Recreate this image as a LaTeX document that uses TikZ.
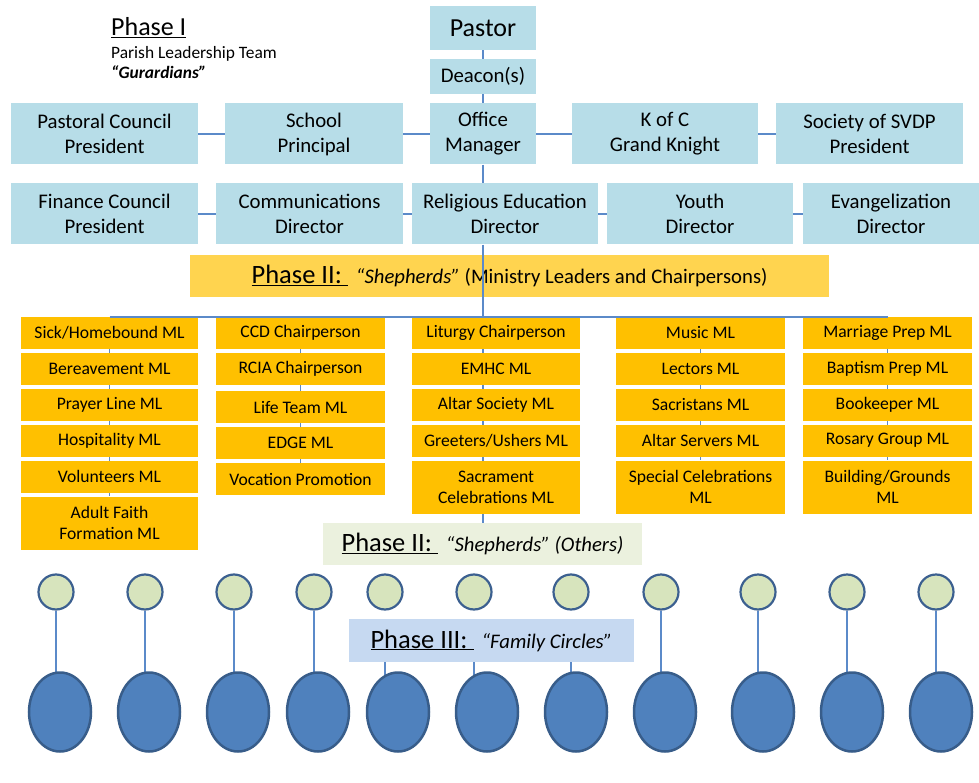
\documentclass[tikz,border=0pt]{standalone}
\usepackage{fontspec}
\setmainfont{Carlito}
\usepackage{tikz}
\usetikzlibrary{positioning, shapes.geometric, backgrounds}
\definecolor{leadblue}{HTML}{B7DDE8}
\definecolor{bannergold}{HTML}{FFD44F}
\definecolor{minorange}{HTML}{FFC000}
\definecolor{othersgreen}{HTML}{EBF1DE}
\definecolor{familyblue}{HTML}{C6D9F1}
\definecolor{circlegreen}{HTML}{D7E4BD}
\definecolor{circleline}{HTML}{3C6090}
\definecolor{ovalblue}{HTML}{4F81BD}
\definecolor{ovalline}{HTML}{385D8A}
\definecolor{linkblue}{HTML}{5B8AC9}
\tikzset{
  lead/.style={fill=leadblue, align=center, inner sep=0pt, font=\fontsize{20.8}{25}\selectfont},
  ministry/.style={fill=minorange, align=center, inner sep=0pt, minimum height=32, font=\fontsize{17.6}{21}\selectfont},
  phasebox/.style={inner sep=0pt, font=\fontsize{26.5}{30}\selectfont},
  famcircle/.style={circle, fill=circlegreen, draw=circleline, line width=2.2pt, minimum size=35, inner sep=0pt},
  famoval/.style={ellipse, fill=ovalblue, draw=ovalline, line width=2.5pt, minimum width=62, minimum height=79, inner sep=0pt},
  link/.style={draw=linkblue, line width=1.5pt}
}

\begin{document}
\begin{tikzpicture}[x=1pt, y=-1pt, node distance=3.5pt]
\useasboundingbox (0,0) rectangle (979,783);

\node (phaseOne) [anchor=base west, inner sep=0pt, font=\fontsize{26}{30}\selectfont] at (111,36) {\underline{Phase I}};
\node (parish) [anchor=base west, inner sep=0pt, font=\fontsize{17.4}{20}\selectfont] at (111,59) {Parish Leadership Team};
\node (guardians) [anchor=base west, inner sep=0pt, font=\fontsize{17.4}{20}\selectfont\bfseries\itshape] at (111,79) {“Gurardians”};

\node (pastor) [lead, minimum width=106, minimum height=44, font=\fontsize{26}{30}\selectfont] at (483,28) {Pastor};
\node (deacon) [lead, minimum width=106, minimum height=35] at (483,76.5) {Deacon(s)};

\node (pcouncil) [lead, minimum width=187, minimum height=61] at (104.5,134) {Pastoral Council\\President};
\node (principal) [lead, minimum width=178, minimum height=61] at (314,134) {School\\Principal};
\node (office) [lead, minimum width=106, minimum height=61] at (483,134) {Office\\Manager};
\node (kofc) [lead, minimum width=186, minimum height=61] at (665,134) {K of C\\Grand Knight};
\node (svdp) [lead, minimum width=187, minimum height=61] at (869.5,134) {Society of SVDP\\President};

\node (fcouncil) [lead, minimum width=187, minimum height=61] at (104.5,214) {Finance Council\\President};
\node (comms) [lead, minimum width=187, minimum height=61] at (309.5,214) {Communications\\Director};
\node (reled) [lead, minimum width=186, minimum height=61] at (505,214) {Religious Education\\Director};
\node (youth) [lead, minimum width=186, minimum height=61] at (700,214) {Youth\\Director};
\node (evang) [lead, minimum width=176, minimum height=61] at (891,214) {Evangelization\\Director};

\node (banner) [phasebox, fill=bannergold, minimum width=639, minimum height=42] at (509.5,276)
  {\underline{Phase II:\hspace{6pt}}\hspace{8pt}{\fontsize{20.7}{24}\selectfont{\itshape “Shepherds”} (Ministry Leaders and Chairpersons)}};

\node (sick) [ministry, minimum width=177] at (109.5,333) {Sick/Homebound ML};
\node (bereave) [ministry, minimum width=177, below=of sick] {Bereavement ML};
\node (prayer) [ministry, minimum width=177, below=of bereave] {Prayer Line ML};
\node (hospit) [ministry, minimum width=177, below=of prayer] {Hospitality ML};
\node (volunt) [ministry, minimum width=177, below=of hospit] {Volunteers ML};
\node (adult) [ministry, minimum width=177, minimum height=53, below=of volunt] {Adult Faith\\Formation ML};

\node (ccd) [ministry, minimum width=169] at (300.5,333) {CCD Chairperson};
\node (rcia) [ministry, minimum width=169, below=of ccd] {RCIA Chairperson};
\node (lifeteam) [ministry, minimum width=169, below=6pt of rcia] {Life Team ML};
\node (edge) [ministry, minimum width=169, below=of lifeteam] {EDGE ML};
\node (vocation) [ministry, minimum width=169, below=of edge] {Vocation Promotion};

\node (liturgy) [ministry, minimum width=168] at (496,333) {Liturgy Chairperson};
\node (emhc) [ministry, minimum width=168, below=of liturgy] {EMHC ML};
\node (altarsoc) [ministry, minimum width=168, below=of emhc] {Altar Society ML};
\node (greeters) [ministry, minimum width=168, below=of altarsoc] {Greeters/Ushers ML};
\node (sacrament) [ministry, minimum width=168, minimum height=53, below=of greeters] {Sacrament\\Celebrations ML};

\node (music) [ministry, minimum width=169] at (700.5,333) {Music ML};
\node (lectors) [ministry, minimum width=169, below=of music] {Lectors ML};
\node (sacristans) [ministry, minimum width=169, below=of lectors] {Sacristans ML};
\node (servers) [ministry, minimum width=169, below=of sacristans] {Altar Servers ML};
\node (special) [ministry, minimum width=169, minimum height=53, below=of servers] {Special Celebrations\\ML};

\node (marriage) [ministry, minimum width=169] at (887.5,333) {Marriage Prep ML};
\node (baptism) [ministry, minimum width=169, below=of marriage] {Baptism Prep ML};
\node (bookeeper) [ministry, minimum width=169, below=of baptism] {Bookeeper ML};
\node (rosary) [ministry, minimum width=169, below=of bookeeper] {Rosary Group ML};
\node (building) [ministry, minimum width=169, minimum height=53, below=of rosary] {Building/Grounds\\ML};

\node (others) [phasebox, fill=othersgreen, minimum width=319, minimum height=42] at (482.5,544)
  {\underline{Phase II:\hspace{6pt}}\hspace{8pt}{\fontsize{20.7}{24}\selectfont\itshape “Shepherds” (Others)}};

\foreach \i/\cx/\ox in {1/56/60, 2/145/149, 3/234/238, 4/314/318, 5/385/398, 6/474/487,
                        7/571/576, 8/661/665, 9/758/763, 10/847/852, 11/936/941} {
  \node (circ\i) [famcircle] at (\cx,592) {};
  \node (oval\i) [famoval] at (\ox,712) {};
}

\node (family) [phasebox, fill=familyblue, minimum width=285, minimum height=43] at (491.5,640.5)
  {\underline{Phase III:\hspace{6pt}}\hspace{8pt}{\fontsize{20.7}{24}\selectfont\itshape “Family Circles”}};

\draw[link] (pastor) -- (deacon);
\draw[link] (deacon) -- (office);
\draw[link] (office) -- (office |- reled.north);
\draw[link] (pcouncil) -- (principal);
\draw[link] (principal) -- (office);
\draw[link] (office) -- (kofc);
\draw[link] (kofc) -- (svdp);
\draw[link] (fcouncil) -- (comms);
\draw[link] (comms) -- (reled);
\draw[link] (reled) -- (youth);
\draw[link] (youth) -- (evang);
\draw[link] (office |- reled.south) -- (office |- sick.north);
\draw[link] (sick.north) -- (marriage.north);

\begin{scope}[on background layer]
\draw[link] (office |- sick.north) -- (office |- others.north);
\draw[link] (sick) -- (adult);
\draw[link] (ccd) -- (vocation);
\draw[link] (music) -- (special);
\draw[link] (marriage) -- (building);
\foreach \i in {1,2,3,4,8,9,10,11}
  \draw[link] (circ\i) -- (circ\i |- oval\i);
\foreach \i in {5,6,7}
  \draw[link] (circ\i |- family.south) -- (circ\i |- oval\i);
\end{scope}
\end{tikzpicture}
\end{document}
